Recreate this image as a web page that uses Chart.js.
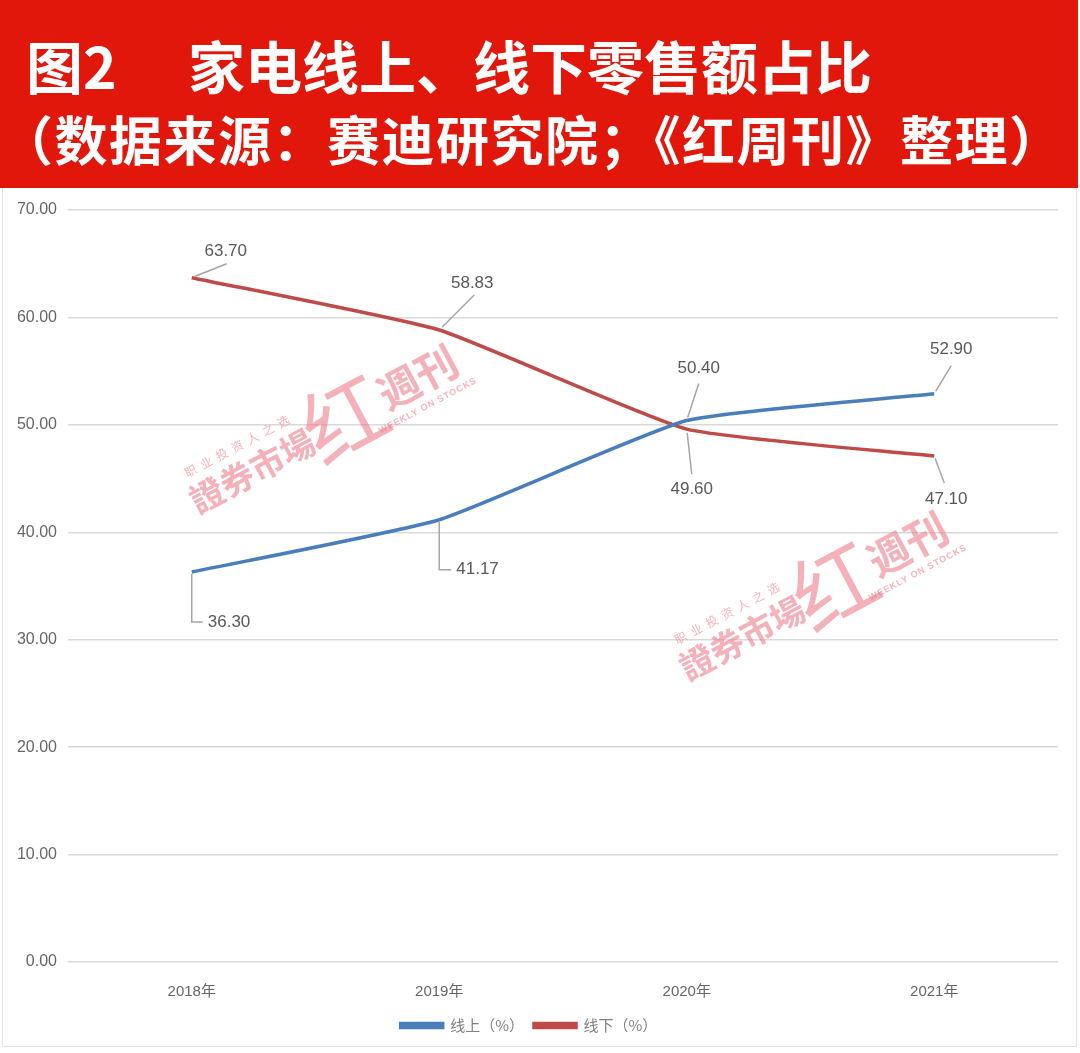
<!DOCTYPE html>
<html>
<head>
<meta charset="utf-8">
<script src="https://cdn.jsdelivr.net/npm/chart.js@4.4.0/dist/chart.umd.min.js"></script>
<style>
  body { margin: 0; width: 1080px; height: 1053px; background: #fff; overflow: hidden; font-family: "Noto Sans CJK SC", sans-serif; }
  #header { position: absolute; left: 0; top: 0; width: 1078px; height: 188px; background: #e2170b; color: #fff; font-weight: 700; }
  .t1 { position: absolute; left: 26px; top: 36px; font-size: 57px; line-height: 1; white-space: nowrap; }
  .t1 .main { position: absolute; left: 162px; top: 0; }
  .t2 { position: absolute; left: 0px; top: 112px; font-size: 53px; letter-spacing: 1.5px; line-height: 1; white-space: nowrap; }
  #frame { position: absolute; left: 2px; top: 188px; width: 1073px; height: 858px; border: 1px solid #e4e4e4; border-top: none; }
  #wrap { position: absolute; left: 0; top: 188px; width: 1080px; height: 865px; }
</style>
</head>
<body>
<div id="header">
  <div class="t1">图2<span class="main">家电线上、线下零售额占比</span></div>
  <div class="t2">（数据来源：赛迪研究院；《红周刊》整理）</div>
</div>
<div id="frame"></div>
<div id="wrap"><canvas id="c" width="1080" height="865"></canvas></div>
<script>
// data
const years = ['2018年', '2019年', '2020年', '2021年'];
const onlineShare = [36.30, 41.17, 50.40, 52.90];   // 线上（%）
const offlineShare = [63.70, 58.83, 49.60, 47.10];  // 线下（%）
const seriesNames = ['线上（%）', '线下（%）'];

const BLUE = '#4a7ebb';
const RED = '#be4b48';

// leader-line placement for each value label (pixel offsets from the point)
const labelPlacement = [
  [ { elbow: 50, dx: 11 }, { elbow: 50, dx: 12 },
    { lx: 12, ly: -37, tx: 12, ty: -52 }, { lx: 17, ly: -28, tx: 17, ty: -44 } ],
  [ { lx: 35, ly: -14, tx: 34, ty: -26 }, { lx: 35, ly: -35, tx: 33, ty: -47 },
    { lx: 5, ly: 45, tx: 5, ty: 60 }, { lx: 10, ly: 27, tx: 12, ty: 43 } ]
];

const valueLabels = {
  id: 'valueLabels',
  afterDatasetsDraw(chart) {
    const ctx = chart.ctx;
    ctx.save();
    ctx.strokeStyle = '#a6a6a6';
    ctx.lineWidth = 1.5;
    ctx.fillStyle = '#595959';
    ctx.font = '17px "Liberation Sans", Arial, sans-serif';
    chart.data.datasets.forEach((ds, di) => {
      const meta = chart.getDatasetMeta(di);
      meta.data.forEach((pt, i) => {
        const p = labelPlacement[di][i];
        const txt = ds.data[i].toFixed(2);
        ctx.beginPath();
        if (p.elbow) {
          ctx.moveTo(pt.x, pt.y + 2);
          ctx.lineTo(pt.x, pt.y + p.elbow);
          ctx.lineTo(pt.x + p.dx, pt.y + p.elbow);
          ctx.stroke();
          ctx.textAlign = 'left';
          ctx.textBaseline = 'middle';
          ctx.fillText(txt, pt.x + p.dx + 5, pt.y + p.elbow);
        } else {
          ctx.moveTo(pt.x + p.lx * 0.08, pt.y + p.ly * 0.08);
          ctx.lineTo(pt.x + p.lx, pt.y + p.ly);
          ctx.stroke();
          ctx.textAlign = 'center';
          ctx.textBaseline = 'middle';
          ctx.fillText(txt, pt.x + p.tx, pt.y + p.ty);
        }
      });
    });
    ctx.restore();
  }
};

// pink publisher watermarks behind the lines
const watermark = {
  id: 'watermark',
  beforeDatasetsDraw(chart) {
    const ctx = chart.ctx;
    [[200, 330], [690, 497]].forEach(([x, y]) => {
      ctx.save();
      ctx.translate(x, y);
      ctx.rotate(-28 * Math.PI / 180);
      ctx.fillStyle = 'rgba(238,125,140,0.6)';
      ctx.textBaseline = 'middle';
      ctx.textAlign = 'left';
      ctx.font = '700 34px "Noto Sans CJK SC"';
      ctx.fillText('證券市場', 0, -17);
      ctx.font = '12px "Noto Sans CJK SC"';
      '职业投资人之选'.split('').forEach((ch, k) => ctx.fillText(ch, 8 + k * 17.5, -46));
      ctx.textAlign = 'center';
      ctx.font = '400 84px "Noto Sans CJK SC"';
      ctx.fillText('红', 174, -20);
      ctx.font = '700 42px "Noto Sans CJK SC"';
      ctx.fillText('週刊', 258, -22);
      ctx.font = '700 9px "Liberation Sans", sans-serif';
      ctx.letterSpacing = '1px';
      ctx.fillText('WEEKLY ON STOCKS', 254, 8);
      ctx.restore();
    });
  }
};

new Chart(document.getElementById('c'), {
  type: 'line',
  data: {
    labels: years,
    datasets: [
      { label: seriesNames[0], data: onlineShare, borderColor: BLUE, backgroundColor: BLUE,
        borderWidth: 3.5, tension: 0.15, pointRadius: 0, fill: false },
      { label: seriesNames[1], data: offlineShare, borderColor: RED, backgroundColor: RED,
        borderWidth: 3.5, tension: 0.15, pointRadius: 0, fill: false }
    ]
  },
  options: {
    responsive: false,
    animation: false,
    layout: { padding: { left: 0, right: 22, top: 22, bottom: 10 } },
    plugins: {
      tooltip: { enabled: false },
      legend: {
        position: 'bottom',
        labels: {
          boxWidth: 42, boxHeight: 4, padding: 10,
          color: '#808080',
          font: { size: 15, family: '"Noto Sans CJK SC", sans-serif' }
        }
      }
    },
    scales: {
      x: {
        offset: true,
        grid: { display: false },
        border: { display: false },
        ticks: { color: '#666', padding: 13, font: { size: 15, family: '"Liberation Sans", "Noto Sans CJK SC", sans-serif' } },
        afterFit: s => { s.height = 46; }
      },
      y: {
        min: 0, max: 70,
        ticks: { stepSize: 10, padding: 11, color: '#666', callback: v => v.toFixed(2),
                 font: { size: 16, family: '"Liberation Sans", Arial, sans-serif' } },
        grid: { color: '#d9d9d9', lineWidth: 1.5, drawTicks: false },
        border: { display: false },
        afterFit: s => { s.width = 68; }
      }
    }
  },
  plugins: [watermark, valueLabels]
});
</script>
</body>
</html>
